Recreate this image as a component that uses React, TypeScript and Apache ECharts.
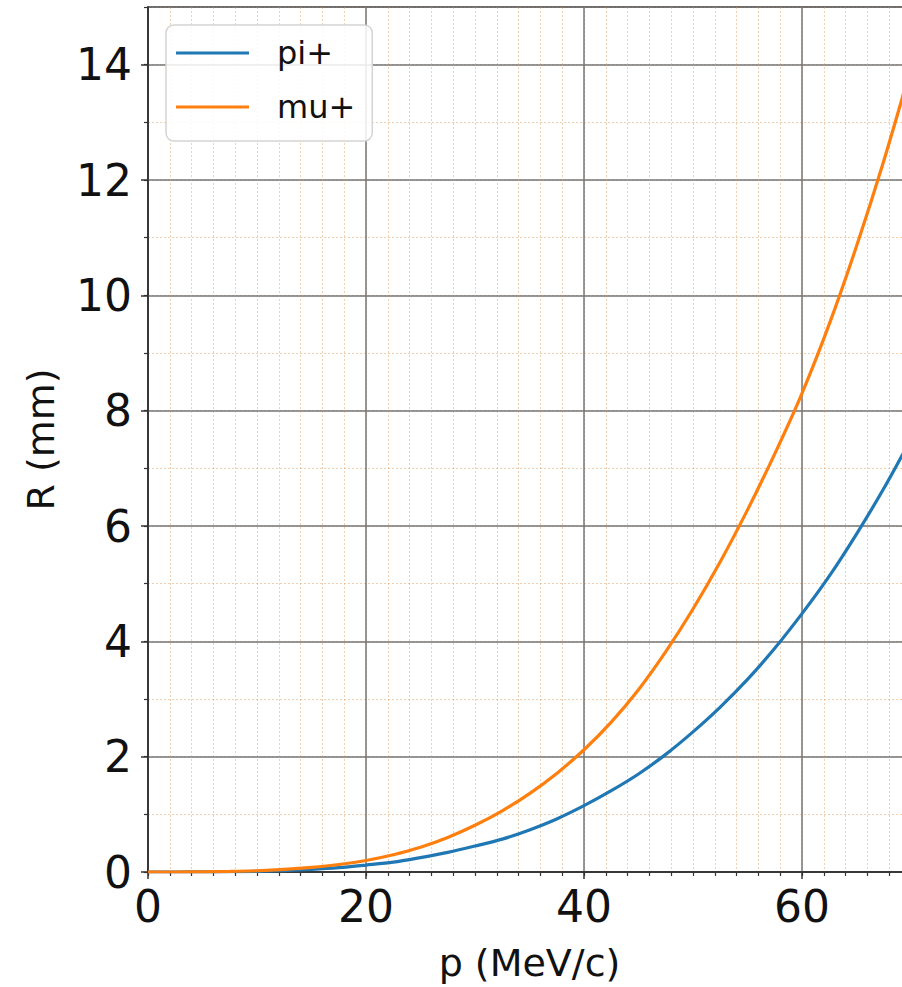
import React, { useEffect, useRef } from "react";
import * as echarts from "echarts";

// Momentum (MeV/c) sample points
const momentum = [
  0, 2.5, 5, 7.5, 10, 12.5, 15, 17.5, 20, 22.5, 25, 27.5, 30, 32.5, 35, 37.5,
  40, 42.5, 45, 47.5, 50, 52.5, 55, 57.5, 60, 62.5, 65, 67.5, 70,
];

// Range R (mm) for each particle at the momenta above
const rangePi = [
  0, 0, 0.002, 0.005, 0.012, 0.025, 0.045, 0.075, 0.12, 0.17, 0.25, 0.34,
  0.45, 0.57, 0.73, 0.92, 1.15, 1.41, 1.7, 2.04, 2.43, 2.86, 3.34, 3.88, 4.48,
  5.13, 5.86, 6.65, 7.51,
];
const rangeMu = [
  0, 0, 0.003, 0.01, 0.022, 0.045, 0.08, 0.13, 0.2, 0.3, 0.43, 0.6, 0.81,
  1.06, 1.36, 1.71, 2.12, 2.6, 3.16, 3.82, 4.56, 5.38, 6.28, 7.25, 8.3, 9.5,
  10.85, 12.33, 13.95,
];

const seriesNames = ["pi+", "mu+"];
const seriesColors = ["#1f77b4", "#ff7f0e"];

const X_MIN = 0;
const X_MAX = 70;
const X_MAJOR = 20;
const X_MINOR = 2;
const Y_MIN = 0;
const Y_MAX = 15;
const Y_MAJOR = 2;
const Y_MINOR = 1;

const FONT = "DejaVu Sans";

export default function App() {
  const ref = useRef<HTMLDivElement>(null);

  useEffect(() => {
    if (!ref.current) return;
    const chart = echarts.init(ref.current, null, { renderer: "svg" });

    const minorGrid = {
      show: true,
      lineStyle: { color: "rgba(225,150,85,0.45)", width: 1, type: [2, 2] },
    };
    const majorGrid = {
      show: true,
      lineStyle: { color: "#747474", width: 1.5, type: "solid" },
    };

    const series = [rangePi, rangeMu].map((vals, i) => ({
      name: seriesNames[i],
      type: "line",
      xAxisIndex: 1,
      yAxisIndex: 1,
      data: momentum.map((p, k) => [p, vals[k]]),
      smooth: 0.3,
      symbol: "none",
      z: 10,
      lineStyle: { color: seriesColors[i], width: 3.2 },
      itemStyle: { color: seriesColors[i] },
    }));

    chart.setOption({
      animation: false,
      backgroundColor: "#ffffff",
      textStyle: { fontFamily: FONT },
      grid: {
        left: 148,
        top: 7,
        width: 763,
        height: 870,
        show: true,
        borderColor: "#262626",
        borderWidth: 1.5,
        backgroundColor: "transparent",
      },
      legend: {
        orient: "vertical",
        left: 166,
        top: 25,
        padding: [12, 17, 18, 10],
        icon: "rect",
        itemWidth: 73,
        itemHeight: 3,
        itemGap: 22,
        borderColor: "#d4d4d4",
        borderWidth: 1.5,
        borderRadius: 8,
        backgroundColor: "rgba(255,255,255,0.85)",
        textStyle: {
          fontFamily: FONT,
          fontSize: 32,
          lineHeight: 32,
          color: "#111",
          padding: [0, 0, 0, 23],
        },
        data: seriesNames,
      },
      xAxis: [
        {
          // fine 2 MeV/c grid
          type: "value",
          min: X_MIN,
          max: X_MAX,
          interval: X_MINOR,
          position: "bottom",
          axisLine: { show: false },
          axisTick: { show: true, length: 4, lineStyle: { color: "#333", width: 1.2 } },
          axisLabel: { show: false },
          splitLine: minorGrid,
        },
        {
          type: "value",
          min: X_MIN,
          max: X_MAX,
          interval: X_MAJOR,
          position: "bottom",
          name: "p (MeV/c)",
          nameLocation: "middle",
          nameGap: 72,
          nameTextStyle: { fontFamily: FONT, fontSize: 38, color: "#111" },
          axisLine: { show: true, lineStyle: { color: "#262626", width: 1.5 } },
          axisTick: { show: true, length: 7, lineStyle: { color: "#333", width: 1.5 } },
          axisLabel: {
            fontFamily: FONT,
            fontSize: 44,
            color: "#111",
            margin: 12,
            showMaxLabel: false,
          },
          splitLine: majorGrid,
        },
      ],
      yAxis: [
        {
          // fine 1 mm grid
          type: "value",
          min: Y_MIN,
          max: Y_MAX,
          interval: Y_MINOR,
          position: "left",
          axisLine: { show: false },
          axisTick: { show: true, length: 4, lineStyle: { color: "#333", width: 1.2 } },
          axisLabel: { show: false },
          splitLine: minorGrid,
        },
        {
          type: "value",
          min: Y_MIN,
          max: Y_MAX,
          interval: Y_MAJOR,
          position: "left",
          name: "R (mm)",
          nameLocation: "middle",
          nameGap: 88,
          nameTextStyle: { fontFamily: FONT, fontSize: 38, color: "#111" },
          axisLine: { show: true, lineStyle: { color: "#262626", width: 1.5 } },
          axisTick: { show: true, length: 7, lineStyle: { color: "#333", width: 1.5 } },
          axisLabel: {
            fontFamily: FONT,
            fontSize: 44,
            color: "#111",
            margin: 16,
            showMaxLabel: false,
          },
          splitLine: majorGrid,
        },
      ],
      series,
    });

    return () => chart.dispose();
  }, []);

  // The plot runs a little past the right edge of the visible frame.
  return (
    <div
      style={{
        position: "fixed",
        left: 0,
        top: 0,
        width: 902,
        height: 987,
        overflow: "hidden",
        background: "#fff",
      }}
    >
      <div ref={ref} style={{ width: 920, height: 987 }} />
    </div>
  );
}
